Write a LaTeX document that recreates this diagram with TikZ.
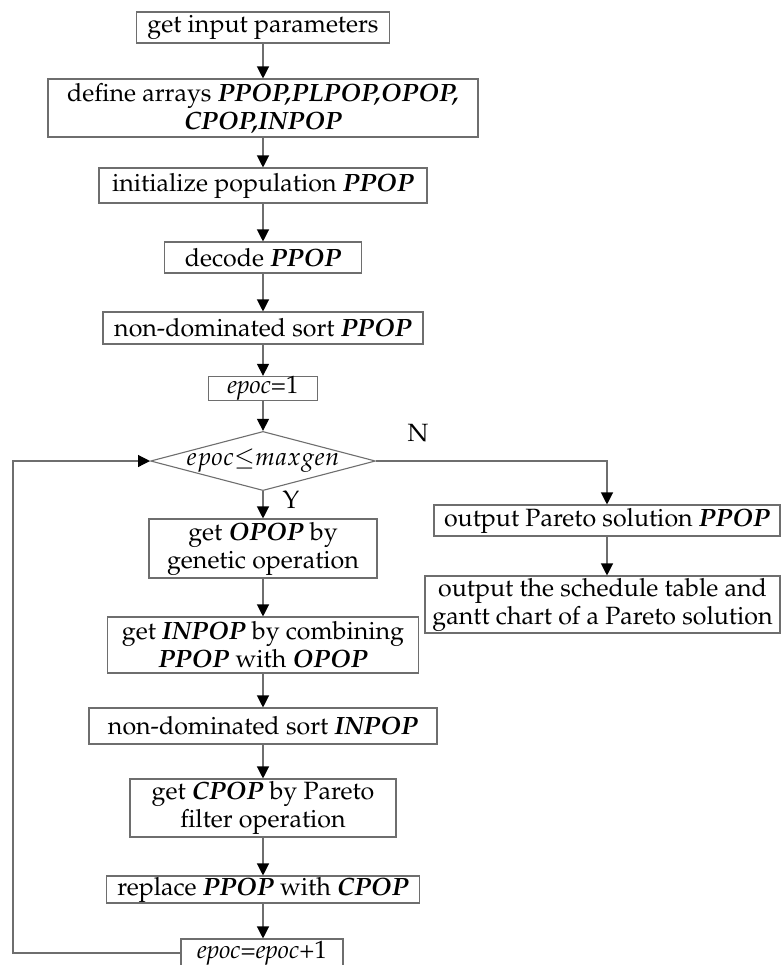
\documentclass[tikz,border=0pt]{standalone}
\usepackage[T1]{fontenc}
\usepackage{mathpazo}
\usepackage{tikz}
\usetikzlibrary{arrows.meta}
\usetikzlibrary{shapes.geometric}
\usetikzlibrary{calc}
\definecolor{lineGray}{RGB}{110,110,110}
\newcommand\bi[1]{\textbf{\textit{#1}}}
\tikzset{
  procBox/.style={draw=lineGray, line width=0.55pt, inner sep=0pt, align=center,
    font=\fontsize{12.5}{14}\selectfont},
  decBox/.style={draw=lineGray, line width=0.55pt, shape=diamond, inner sep=-0.9pt, aspect=3.8,
    minimum width=110pt, minimum height=29pt, font=\fontsize{12.5}{14}\selectfont},
  flowLine/.style={draw=lineGray, line width=0.6pt,
    -{Triangle[length=6pt,width=6pt,color=black]}},
  loopLine/.style={draw=lineGray, line width=0.6pt}
}

\begin{document}
\begin{tikzpicture}[x=0.5pt,y=-0.5pt]
\useasboundingbox (0,0) rectangle (781,965);

\node [procBox, minimum width=126.5pt, minimum height=15.5pt] (getInput) at (263,27.5) {get input parameters};
\node [procBox, minimum width=215pt, minimum height=29pt] (defArrays) at (263,108) {define arrays \bi{PPOP,PLPOP,OPOP,}\\\bi{CPOP,INPOP}};
\node [procBox, minimum width=164pt, minimum height=17.5pt] (initPop) at (263,185.5) {initialize population \bi{PPOP}};
\node [procBox, minimum width=98.5pt, minimum height=15.5pt] (decodePop) at (263,257.5) {decode \bi{PPOP}};
\node [procBox, minimum width=160pt, minimum height=16pt] (sortPop) at (263,328) {non-dominated sort \bi{PPOP}};
\node [procBox, minimum width=54.5pt, minimum height=11.5pt] (epocOne) at (263,388.5) {\textit{epoc}=1};
\node [decBox] (epocTest) at (263,461) {$epoc{\leq}maxgen$};
\node [procBox, minimum width=114pt, minimum height=29.5pt] (getOpop) at (263,548.5) {get \bi{OPOP} by\\genetic operation};
\node [procBox, minimum width=155.5pt, minimum height=28pt] (getInpop) at (263,645) {get \bi{INPOP} by combining\\\bi{PPOP} with \bi{OPOP}};
\node [procBox, minimum width=174pt, minimum height=18pt] (sortInpop) at (263,726) {non-dominated sort \bi{INPOP}};
\node [procBox, minimum width=133pt, minimum height=29pt] (getCpop) at (263,808) {get \bi{CPOP} by Pareto\\filter operation};
\node [procBox, minimum width=156.5pt, minimum height=13.5pt] (replacePop) at (263,889.5) {replace \bi{PPOP} with \bi{CPOP}};
\node [procBox, minimum width=81pt, minimum height=14pt] (epocNext) at (262,953) {\textit{epoc}=\textit{epoc}+1};
\node [procBox, minimum width=173pt, minimum height=15.5pt] (outPareto) at (607,520.5) {output Pareto solution \bi{PPOP}};
\node [procBox, minimum width=177.5pt, minimum height=28.5pt] (outTable) at (602.5,604.5) {output the schedule table and\\gantt chart of a Pareto solution};

\node [font=\fontsize{12.5}{14}\selectfont] (labN) at (418,433) {N};
\node [font=\fontsize{12.5}{14}\selectfont] (labY) at (291,500) {Y};

\draw [flowLine] (getInput) -- (defArrays);
\draw [flowLine] (defArrays) -- (initPop);
\draw [flowLine] (initPop) -- (decodePop);
\draw [flowLine] (decodePop) -- (sortPop);
\draw [flowLine] (sortPop) -- (epocOne);
\draw [flowLine] (epocOne) -- (epocTest);
\draw [flowLine] (epocTest) -- (getOpop);
\draw [flowLine] (getOpop) -- (getInpop);
\draw [flowLine] (getInpop) -- (sortInpop);
\draw [flowLine] (sortInpop) -- (getCpop);
\draw [flowLine] (getCpop) -- (replacePop);
\draw [flowLine] (replacePop) -- (replacePop |- epocNext.north);
\draw [flowLine] (epocTest.east) -| (outPareto.north);
\draw [flowLine] (outPareto) -- (outPareto |- outTable.north);
\coordinate (loopCorner) at (13,953);
\draw [flowLine] (epocNext.west) -- (loopCorner) |- (epocTest.west);
\end{tikzpicture}
\end{document}
